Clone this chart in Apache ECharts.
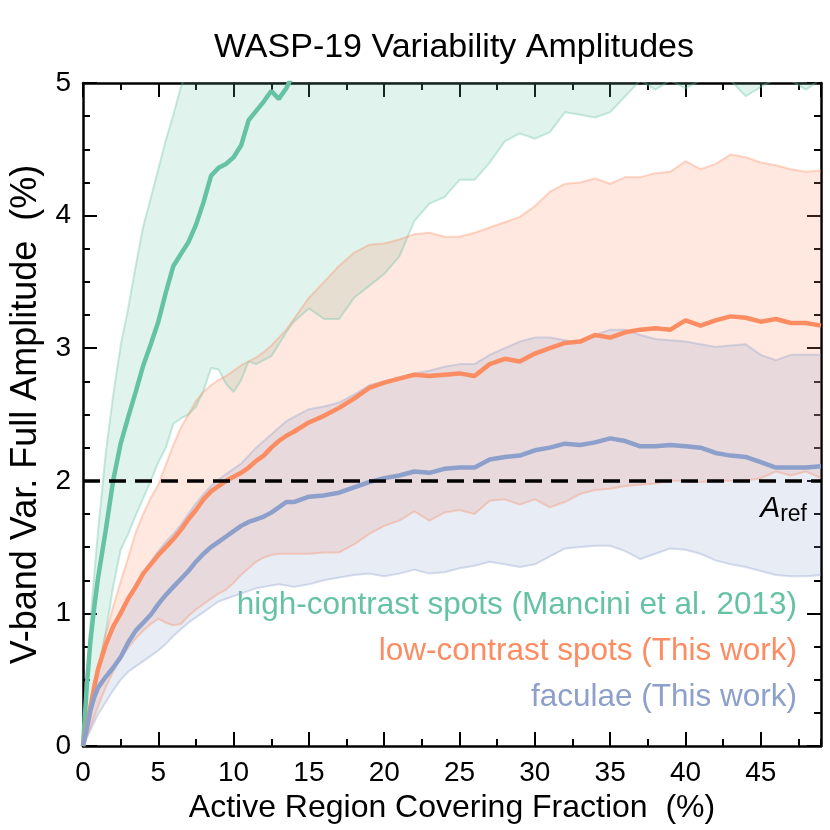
<!DOCTYPE html>
<html>
<head>
<meta charset="utf-8">
<title>WASP-19 Variability Amplitudes</title>
<script src="https://cdn.jsdelivr.net/npm/echarts@6/dist/echarts.min.js"></script>
<style>
    html, body { margin: 0; padding: 0; background: #fff; }
    #chart { width: 830px; height: 830px; }
</style>
</head>
<body>
<div id="chart"></div>
<script>
// covering fraction (%)
const coverFrac = [0, 0.25, 0.5, 0.75, 1, 1.5, 2, 2.5, 3, 3.5, 4, 4.5, 5, 5.5, 6, 6.5, 7, 7.5, 8, 8.5,
    9, 9.5, 10, 10.5, 11, 11.5, 12, 12.5, 13, 13.5, 14, 15, 16, 17, 18, 19, 20, 21, 22, 23,
    24, 25, 26, 27, 28, 29, 30, 31, 32, 33, 34, 35, 36, 37, 38, 39, 40, 41, 42, 43,
    44, 45, 46, 47, 48, 49];

// high-contrast spots (Mancini et al. 2013)
const highMid = [0, 0.45, 0.8, 1.05, 1.27, 1.62, 2.0, 2.28, 2.48, 2.67, 2.87, 3.03, 3.2, 3.42, 3.62, 3.71, 3.8, 3.93, 4.1, 4.3,
    4.36, 4.39, 4.44, 4.53, 4.72, 4.79, 4.86, 4.94, 4.88, 4.96, 5.08, 5.3, null, null, null, null, null, null, null, null,
    null, null, null, null, null, null, null, null, null, null, null, null, null, null, null, null, null, null, null, null,
    null, null, null, null, null, null];
const highHi = [0, 0.5, 0.95, 1.3, 1.62, 2.2, 2.64, 3.02, 3.3, 3.62, 3.92, 4.13, 4.35, 4.57, 4.76, 4.97, 5.12, 5.3, 5.45, 5.6,
    5.7, 5.8, 5.9, 6.0, 6.1, 6.2, 6.3, 6.4, 6.5, 6.6, 6.7, 6.8, 6.9, 7.0, 7.0, 7.0, 7.0, 7.0, 7.0, 7.0,
    7.0, 7.0, 7.0, 7.0, 7.0, 7.0, 7.0, 7.0, 7.0, 7.0, 7.0, 7.0, 7.0, 7.0, 7.0, 7.0, 7.0, 7.0, 7.0, 7.0,
    7.0, 7.0, 7.0, 7.0, 7.0, 7.0];
const highLo = [0, 0.12, 0.25, 0.38, 0.55, 0.85, 1.2, 1.48, 1.6, 1.74, 1.87, 2.0, 2.14, 2.25, 2.43, 2.47, 2.5, 2.56, 2.68, 2.85,
    2.84, 2.73, 2.67, 2.76, 2.9, 2.88, 2.91, 2.94, 3.03, 3.12, 3.2, 3.3, 3.22, 3.22, 3.38, 3.47, 3.56, 3.69, 3.96, 4.09,
    4.14, 4.27, 4.27, 4.4, 4.56, 4.62, 4.58, 4.63, 4.78, 4.76, 4.74, 4.78, 4.9, 5.02, 4.95, 5.02, 4.96, 5.02, 5.05, 5.02,
    4.9, 4.97, 5.03, 5.02, 4.95, 5.03];

// low-contrast spots (this work)
const lowMid = [0, 0.15, 0.3, 0.45, 0.58, 0.76, 0.9, 1.0, 1.11, 1.2, 1.3, 1.37, 1.44, 1.5, 1.56, 1.63, 1.71, 1.78, 1.86, 1.92,
    1.96, 2.0, 2.03, 2.06, 2.1, 2.15, 2.19, 2.25, 2.3, 2.34, 2.37, 2.44, 2.49, 2.55, 2.62, 2.7, 2.74, 2.77, 2.8, 2.79,
    2.8, 2.81, 2.79, 2.88, 2.92, 2.9, 2.96, 3.0, 3.04, 3.05, 3.1, 3.08, 3.12, 3.14, 3.15, 3.14, 3.21, 3.17, 3.21, 3.24,
    3.23, 3.2, 3.22, 3.19, 3.19, 3.17];
const lowHi = [0, 0.17, 0.32, 0.46, 0.6, 0.84, 1.05, 1.24, 1.42, 1.61, 1.75, 1.87, 1.97, 2.12, 2.27, 2.4, 2.5, 2.6, 2.67, 2.72,
    2.76, 2.79, 2.83, 2.87, 2.9, 2.93, 2.97, 3.02, 3.08, 3.14, 3.22, 3.38, 3.5, 3.62, 3.72, 3.78, 3.79, 3.82, 3.86, 3.87,
    3.84, 3.84, 3.87, 3.91, 3.95, 3.99, 4.07, 4.18, 4.24, 4.25, 4.28, 4.24, 4.29, 4.29, 4.32, 4.33, 4.41, 4.35, 4.39, 4.46,
    4.44, 4.4, 4.38, 4.35, 4.33, 4.34];
const lowLo = [0, 0.07, 0.14, 0.22, 0.3, 0.44, 0.56, 0.66, 0.74, 0.81, 0.87, 0.92, 0.96, 0.93, 0.91, 0.92, 0.98, 1.03, 1.07, 1.11,
    1.15, 1.18, 1.23, 1.29, 1.34, 1.39, 1.42, 1.44, 1.45, 1.45, 1.45, 1.45, 1.46, 1.46, 1.52, 1.6, 1.66, 1.7, 1.77, 1.7,
    1.76, 1.78, 1.75, 1.85, 1.86, 1.82, 1.86, 1.8, 1.84, 1.9, 1.93, 1.94, 1.96, 1.97, 1.98, 2.0, 2.0, 1.99, 2.0, 2.0,
    2.0, 2.02, 2.07, 2.04, 2.07, 2.02];

// faculae (this work)
const facMid = [0, 0.13, 0.27, 0.37, 0.44, 0.52, 0.59, 0.67, 0.78, 0.87, 0.93, 0.99, 1.07, 1.14, 1.2, 1.26, 1.32, 1.39, 1.45, 1.5,
    1.54, 1.58, 1.62, 1.66, 1.69, 1.71, 1.73, 1.76, 1.8, 1.84, 1.84, 1.88, 1.89, 1.91, 1.95, 1.99, 2.02, 2.04, 2.07, 2.06,
    2.09, 2.1, 2.1, 2.16, 2.18, 2.19, 2.23, 2.25, 2.28, 2.27, 2.29, 2.32, 2.3, 2.26, 2.26, 2.27, 2.26, 2.25, 2.21, 2.19,
    2.18, 2.14, 2.1, 2.1, 2.1, 2.11];
const facHi = [0, 0.16, 0.31, 0.46, 0.59, 0.77, 0.91, 1.02, 1.13, 1.22, 1.31, 1.39, 1.47, 1.54, 1.6, 1.67, 1.75, 1.83, 1.9, 1.96,
    2.01, 2.05, 2.09, 2.13, 2.19, 2.25, 2.3, 2.35, 2.4, 2.45, 2.48, 2.54, 2.56, 2.59, 2.65, 2.72, 2.75, 2.78, 2.81, 2.83,
    2.86, 2.88, 2.88, 2.95, 3.0, 3.05, 3.08, 3.08, 3.06, 3.04, 3.1, 3.14, 3.14, 3.1, 3.07, 3.06, 3.05, 3.03, 3.01, 3.02,
    3.03, 2.95, 2.91, 2.95, 2.95, 2.95];
const facLo = [0, 0.06, 0.12, 0.18, 0.24, 0.33, 0.42, 0.5, 0.56, 0.6, 0.64, 0.68, 0.72, 0.77, 0.83, 0.88, 0.93, 0.97, 1.01, 1.05,
    1.09, 1.11, 1.13, 1.15, 1.17, 1.19, 1.2, 1.21, 1.22, 1.21, 1.2, 1.22, 1.25, 1.27, 1.29, 1.3, 1.28, 1.3, 1.33, 1.3,
    1.31, 1.34, 1.36, 1.39, 1.37, 1.35, 1.37, 1.43, 1.49, 1.5, 1.51, 1.51, 1.47, 1.41, 1.45, 1.49, 1.48, 1.45, 1.4, 1.37,
    1.35, 1.32, 1.29, 1.28, 1.28, 1.29];

const refAmp = 2;
const seriesNames = ['high-contrast spots (Mancini et al. 2013)', 'low-contrast spots (This work)', 'faculae (This work)'];

const GREEN = '#66c2a5', ORANGE = '#fc8d62', BLUE = '#8da0cb';
const FONT = '"Liberation Sans", Arial, Helvetica, sans-serif';

function pairs(vals) {
    return coverFrac.map((x, i) => [x, vals[i]]);
}

function band(lo, hi, color) {
    return {
        type: 'custom',
        coordinateSystem: 'cartesian2d',
        silent: true,
        clip: true,
        data: [[0, 0]],
        renderItem: function (params, api) {
            let pts = [];
            for (let i = 0; i < coverFrac.length; i++) pts.push(api.coord([coverFrac[i], lo[i]]));
            for (let i = coverFrac.length - 1; i >= 0; i--) pts.push(api.coord([coverFrac[i], hi[i]]));
            return {
                type: 'polygon',
                shape: {points: pts},
                style: {fill: color, opacity: 0.2}
            };
        }
    };
}

function edge(vals, color) {
    return {
        type: 'line', data: pairs(vals), symbol: 'none', silent: true,
        lineStyle: {color: color, width: 2, opacity: 0.35}
    };
}

function mid(vals, color) {
    return {
        type: 'line', data: pairs(vals), symbol: 'none', silent: true,
        lineStyle: {color: color, width: 4.5}
    };
}

const tickStyle = {color: '#000', width: 2};
const frame = {show: true, onZero: false, lineStyle: {color: '#000', width: 2.5}};
const legendFont = '31.5px ' + FONT;

let chart = echarts.init(document.getElementById('chart'));

let facMidSeries = mid(facMid, BLUE);
facMidSeries.markLine = {
    silent: true,
    symbol: 'none',
    lineStyle: {color: '#000', type: [17, 9], width: 3.5},
    data: [{yAxis: refAmp}],
    label: {
        position: 'insideEndBottom',
        distance: [14, 10],
        formatter: '{a|A}{r|ref}',
        rich: {
            a: {fontFamily: FONT, fontSize: 30, fontStyle: 'italic', color: '#000'},
            r: {fontFamily: FONT, fontSize: 23, color: '#000', padding: [12, 0, 0, 0]}
        }
    }
};

chart.setOption({
    animation: false,
    backgroundColor: '#fff',
    textStyle: {fontFamily: FONT},
    title: {
        text: 'WASP-19 Variability Amplitudes',
        left: 449, top: 26, textAlign: 'center',
        textStyle: {fontFamily: FONT, fontSize: 34, fontWeight: 'normal', color: '#000'}
    },
    grid: [
        {left: 83, right: 9, top: 83, bottom: 84},
        {left: 83, right: 9, top: 83, bottom: 84}
    ],
    xAxis: [
        {
            type: 'value', gridIndex: 0, position: 'bottom', min: 0, max: 49, interval: 5,
            axisLine: frame,
            axisTick: {inside: true, length: 14, lineStyle: tickStyle},
            axisLabel: {color: '#000', fontSize: 28, fontFamily: FONT, margin: 13, showMaxLabel: false},
            splitLine: {show: false},
            name: 'Active Region Covering Fraction  (%)',
            nameLocation: 'middle', nameGap: 36,
            nameTextStyle: {color: '#000', fontSize: 32, fontFamily: FONT}
        },
        {
            type: 'value', gridIndex: 0, position: 'top', min: 0, max: 49, interval: 5,
            axisLine: frame,
            axisTick: {inside: true, length: 14, lineStyle: tickStyle},
            axisLabel: {show: false},
            splitLine: {show: false}
        },
        {
            type: 'value', gridIndex: 1, position: 'bottom', min: 0, max: 49, interval: 2.5,
            axisLine: {show: false},
            axisTick: {inside: true, length: 7, lineStyle: tickStyle},
            axisLabel: {show: false},
            splitLine: {show: false}
        },
        {
            type: 'value', gridIndex: 1, position: 'top', min: 0, max: 49, interval: 2.5,
            axisLine: {show: false},
            axisTick: {inside: true, length: 7, lineStyle: tickStyle},
            axisLabel: {show: false},
            splitLine: {show: false}
        }
    ],
    yAxis: [
        {
            type: 'value', gridIndex: 0, position: 'left', min: 0, max: 5, interval: 1,
            axisLine: frame,
            axisTick: {inside: true, length: 14, lineStyle: tickStyle},
            minorTick: {show: true, splitNumber: 4, length: 7, lineStyle: tickStyle},
            axisLabel: {color: '#000', fontSize: 28, fontFamily: FONT, margin: 12},
            splitLine: {show: false},
            minorSplitLine: {show: false},
            name: 'V-band Var. Full Amplitude  (%)',
            nameLocation: 'middle', nameGap: 30, nameRotate: 90,
            nameTextStyle: {color: '#000', fontSize: 36, fontFamily: FONT}
        },
        {
            type: 'value', gridIndex: 0, position: 'right', min: 0, max: 5, interval: 1,
            axisLine: frame,
            axisTick: {inside: true, length: 14, lineStyle: tickStyle},
            minorTick: {show: true, splitNumber: 4, length: 7, lineStyle: tickStyle},
            axisLabel: {show: false},
            splitLine: {show: false},
            minorSplitLine: {show: false}
        },
        {type: 'value', gridIndex: 1, min: 0, max: 5, show: false}
    ],
    series: [
        band(highLo, highHi, GREEN),
        band(lowLo, lowHi, ORANGE),
        band(facLo, facHi, BLUE),
        edge(highLo, GREEN), edge(highHi, GREEN),
        edge(lowLo, ORANGE), edge(lowHi, ORANGE),
        edge(facLo, BLUE), edge(facHi, BLUE),
        mid(highMid, GREEN),
        mid(lowMid, ORANGE),
        facMidSeries
    ],
    graphic: [
        {type: 'text', x: 797, y: 605, silent: true,
            style: {text: seriesNames[0], fill: GREEN, font: legendFont, textAlign: 'right', textVerticalAlign: 'middle'}},
        {type: 'text', x: 797, y: 651, silent: true,
            style: {text: seriesNames[1], fill: ORANGE, font: legendFont, textAlign: 'right', textVerticalAlign: 'middle'}},
        {type: 'text', x: 797, y: 697, silent: true,
            style: {text: seriesNames[2], fill: BLUE, font: legendFont, textAlign: 'right', textVerticalAlign: 'middle'}}
    ]
});
</script>
</body>
</html>
